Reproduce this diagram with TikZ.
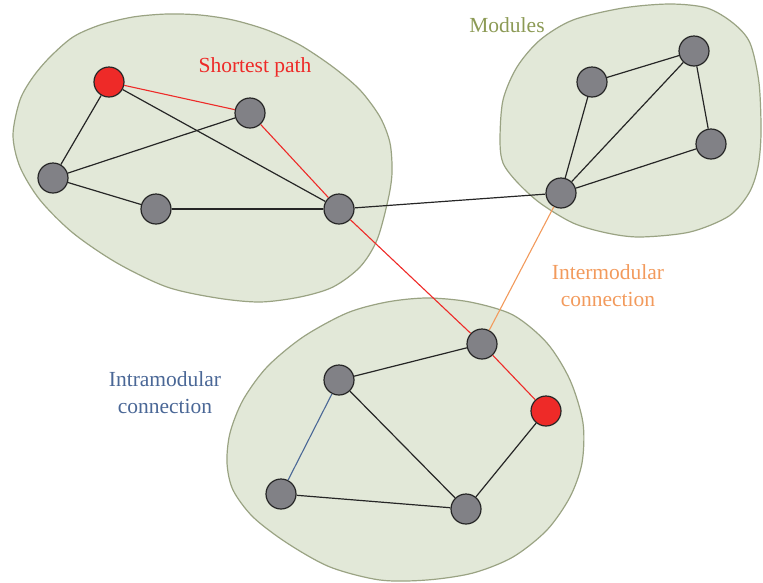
\documentclass[tikz,border=0pt]{standalone}
\usepackage{fontspec}
\setmainfont{Liberation Serif}
\usetikzlibrary{positioning}
\definecolor{blobfill}{HTML}{E2E8D8}
\definecolor{blobline}{HTML}{9AA383}
\definecolor{vtxgray}{HTML}{818186}
\definecolor{pathred}{HTML}{EE2A28}
\definecolor{interorange}{HTML}{F29A5C}
\definecolor{intrablue}{HTML}{4A6796}
\definecolor{modolive}{HTML}{8C9A55}

\begin{document}
\begin{tikzpicture}[
    x=1pt, y=-1pt,
    vtx/.style={
        circle,
        minimum size=30pt,
        inner sep=0pt,
        draw=black!85,
        line width=1.2pt,
        fill=vtxgray,
    },
    endvtx/.style={vtx,fill=pathred},
    edge/.style={line width=1.2pt,color=black!85},
    spedge/.style={line width=1.1pt,color=pathred},
    interedge/.style={line width=1.1pt,color=interorange},
    intraedge/.style={line width=1.1pt,color=intrablue},
    module/.style={fill=blobfill,draw=blobline,line width=1.2pt},
    lbl/.style={font=\fontsize{21.5}{27}\selectfont,align=center},
]
\useasboundingbox (0,0) rectangle (763,582);

% === Module outlines ===
\draw[module] plot[smooth cycle] coordinates {
    (13,135) (20,100) (33,77) (50,57) (73,37) (100,25) (133,17)
    (167,14) (200,15) (233,20) (267,30) (300,45) (333,67) (360,90)
    (380,117) (390,143) (392,173) (388,200) (377,240) (360,267)
    (333,287) (300,297) (260,302) (217,298) (167,287) (117,263)
    (73,233) (40,200) (20,167)};
\draw[module] plot[smooth cycle] coordinates {
    (500,140) (503,100) (517,67) (540,40) (573,20) (623,8) (670,4)
    (707,8) (733,23) (750,43) (759,83) (761,133) (758,167) (749,193)
    (729,216) (690,232) (640,237) (607,233) (573,223) (540,203)
    (517,182) (503,163)};
\draw[module] plot[smooth cycle] coordinates {
    (227,463) (230,433) (243,400) (267,367) (303,337) (347,313)
    (387,302) (427,298) (470,302) (513,315) (547,343) (570,380)
    (583,423) (582,463) (570,497) (547,530) (513,557) (473,573)
    (427,580) (380,580) (330,567) (287,543) (253,517) (233,490)};

% === Module 1 ===
\node[endvtx] (src) at (109,82) {};
\node[vtx] (a1) at (250,113) {};
\node[vtx] (a2) at (53,178) {};
\node[vtx] (a3) at (156,209) {};
\node[vtx] (a4) at (339,209) {};

% === Module 2 ===
\node[vtx] (b1) at (592,82) {};
\node[vtx] (b2) at (694,51) {};
\node[vtx] (b3) at (711,144) {};
\node[vtx] (b4) at (561,193) {};

% === Module 3 ===
\node[vtx] (c1) at (482,344) {};
\node[vtx] (c2) at (339,380) {};
\node[endvtx] (dst) at (546,411) {};
\node[vtx] (c3) at (281,494) {};
\node[vtx] (c4) at (466,509) {};

% === Edges ===
\draw[edge] (src) -- (a2);
\draw[edge] (src) -- (a4);
\draw[edge] (a2) -- (a1);
\draw[edge] (a2) -- (a3);
\draw[edge] (a3) -- (a4);

\draw[edge] (a4) -- (b4);
\draw[edge] (b4) -- (b1);
\draw[edge] (b4) -- (b2);
\draw[edge] (b4) -- (b3);
\draw[edge] (b1) -- (b2);
\draw[edge] (b2) -- (b3);

\draw[edge] (c2) -- (c1);
\draw[edge] (c2) -- (c4);
\draw[edge] (c3) -- (c4);
\draw[edge] (c4) -- (dst);
\draw[intraedge] (c2) -- (c3);

\draw[interedge] (b4) -- (c1);

\draw[spedge] (src) -- (a1);
\draw[spedge] (a1) -- (a4);
\draw[spedge] (a4) -- (c1);
\draw[spedge] (c1) -- (dst);

% === Labels ===
\node[lbl,text=pathred] (splbl) at (255,67) {Shortest path};
\node[lbl,text=modolive] (modlbl) at (507,25) {Modules};
\node[lbl,text=interorange] (interlbl) at (608,286) {Intermodular\\connection};
\node[lbl,text=intrablue] (intralbl) at (165,393) {Intramodular\\connection};

\end{tikzpicture}
\end{document}
